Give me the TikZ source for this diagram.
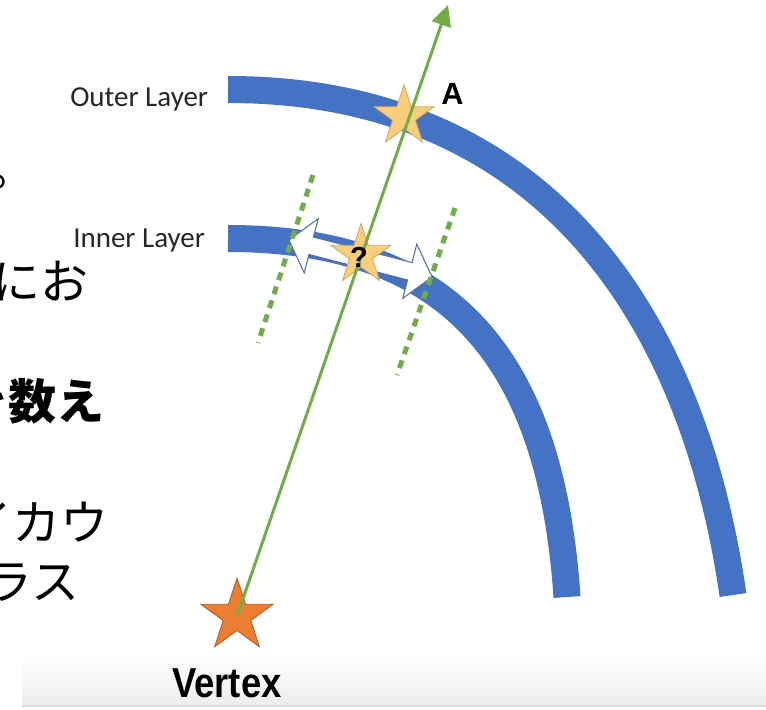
\documentclass[tikz,border=0pt]{standalone}
\usepackage{fontspec}
\usepackage{graphicx}
\usetikzlibrary{arrows.meta,shapes.geometric}
\newfontfamily\labfont{Carlito}
\newfontfamily\headfont{Liberation Sans}
\newfontfamily\jpfont{Noto Sans CJK JP}
\definecolor{ink}{HTML}{262626}
\definecolor{layerblue}{HTML}{4472C4}
\definecolor{raygreen}{HTML}{70AD47}
\definecolor{hitfill}{HTML}{F9CD7A}
\definecolor{hitline}{HTML}{D9A656}
\definecolor{rootfill}{HTML}{ED7D31}
\definecolor{rootline}{HTML}{AE5A21}
\definecolor{spreadline}{HTML}{56709E}
\tikzset{layer/.style={draw=layerblue,line width=20.25pt},
  ray/.style={draw=raygreen,line width=2.25pt,-{Triangle[length=15.5pt,width=14.7pt]}},
  guide/.style={draw=raygreen,line width=3.75pt,dash pattern=on 6pt off 5pt},
  hit/.style={star,star points=5,star point ratio=2.618,fill=hitfill,draw=hitline,
    line width=.6pt,inner sep=0pt,minimum size=47.25pt},
  root/.style={star,star points=5,star point ratio=2.618,fill=rootfill,draw=rootline,
    line width=.6pt,inner sep=0pt,minimum size=57pt},
  spread/.style={fill=white,draw=spreadline,line width=.8pt,line join=miter},
  lab/.style={font=\labfont\fontsize{21.75pt}{26pt}\selectfont,text=ink,inner sep=0pt,anchor=base west},
  bold/.style={font=\headfont\bfseries\fontsize{#1}{1.2\dimexpr#1\relax}\selectfont,inner sep=0pt},
  jp/.style={font=\jpfont\fontsize{36pt}{42pt}\selectfont,inner sep=0pt,anchor=base west}}

\begin{document}
\begin{tikzpicture}[x=0.75pt,y=-0.75pt]
\useasboundingbox (0,0) rectangle (766,709);
\clip (0,0) rectangle (766,709);
% slide text behind the figure
\foreach \n/\xx/\yy/\txt in {a/-12/186/。,b/-7.5/299/にお,d/-36/540/イカウ,e/-15.5/599/ラス}
  \node[jp] (jp\n) at (\xx,\yy) {\txt};
\node[jp,font=\jpfont\bfseries\fontsize{36pt}{42pt}\selectfont] (jpc) at (-40,419) {を数え};
% bottom bar
\shade[top color=white,bottom color=black!7] (22,655) rectangle (766,705);
\fill[black!14] (22,705) rectangle (766,706.5);
% layers
\draw[layer] (228,89.5) .. controls (528,89.5) and (689.5,295) .. (733,595);
\draw[layer] (228,238.5) .. controls (458,238.5) and (551.4,367) .. (567,597);
% spread of the hit on the inner layer
\begin{scope}[shift={(360.5,258.5)},rotate=-14.5]
\path[spread] (-73.9,0) -- (-50.9,-28) -- (-50.9,-9) -- (50.9,-9) -- (50.9,-28) -- (73.9,0)
  -- (50.9,28) -- (50.9,9) -- (-50.9,9) -- (-50.9,28) -- cycle;
\end{scope}
\node[hit] (starA) at (404,116.5) {};
\node[hit] (starQ) at (361,255) {};
\node[root] (vertex) at (237,616) {};
\coordinate (g1a) at (313,175);
\coordinate (g1b) at (258,343);
\coordinate (g2a) at (455,208);
\coordinate (g2b) at (397,375);
\draw[guide] (g1a) -- (g1b);
\draw[guide] (g2a) -- (g2b);
\coordinate (tip) at (448,5);
\draw[ray] (vertex.center) -- (tip);
\node[bold=21.75pt] (qm) at (359,257) {?};
% labels
\node[lab] (outer) at (70,106.5) {Outer Layer};
\node[lab] (inner) at (73,247) {Inner Layer};
\node[bold=23pt,anchor=base west] (alab) at (441,105) {A};
\node[bold=31.4pt,anchor=base west] (vlab) at (172,697) {\scalebox{.87}[1]{Vertex}};
\end{tikzpicture}
\end{document}
